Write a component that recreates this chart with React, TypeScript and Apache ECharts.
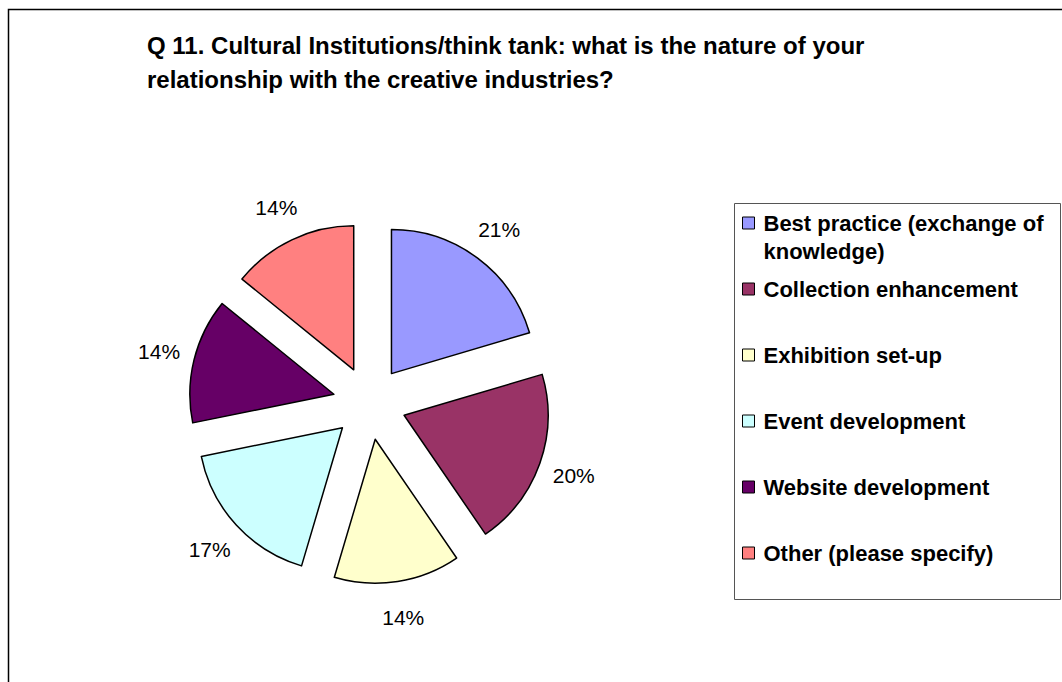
import React, { useEffect, useRef } from "react";
import * as echarts from "echarts";

const categories = [
  "Best practice (exchange of knowledge)",
  "Collection enhancement",
  "Exhibition set-up",
  "Event development",
  "Website development",
  "Other (please specify)",
];
const values = [20.5, 20.1, 14.2, 17.3, 14.1, 14.2];
const colors = ["#9999FF", "#993366", "#FFFFCC", "#CCFFFF", "#660066", "#FF8080"];
const titleText =
  "Q 11. Cultural Institutions/think tank: what is the nature of your\nrelationship with the creative industries?";

const FONT = '"Liberation Sans", Arial, Helvetica, sans-serif';

export default function App() {
  const ref = useRef<HTMLDivElement>(null);
  useEffect(() => {
    if (!ref.current) return;
    const chart = echarts.init(ref.current, undefined, { renderer: "svg" });
    const center = [369.5, 403];
    const offset = 36.7;
    const legendText = {
      fontFamily: FONT,
      fontSize: 22,
      fontWeight: "bold",
      color: "#000",
    };
    const option: any = {
      animation: false,
      backgroundColor: "#ffffff",
      title: {
        text: titleText,
        left: 147,
        top: 28,
        padding: 0,
        textStyle: {
          fontFamily: FONT,
          fontSize: 24,
          fontWeight: "bold",
          color: "#000",
          lineHeight: 34,
        },
      },
      graphic: [
        {
          type: "rect",
          z: -10,
          shape: { x: 8.5, y: 9.5, width: 1100, height: 700 },
          style: { fill: "none", stroke: "#000", lineWidth: 1.5 },
          silent: true,
        },
        {
          type: "rect",
          z: -10,
          shape: { x: 734.5, y: 203.5, width: 326, height: 396 },
          style: { fill: "none", stroke: "#555", lineWidth: 1 },
          silent: true,
        },
      ],
      legend: [
        {
          orient: "vertical",
          left: 742,
          top: 181,
          padding: 0,
          icon: "rect",
          itemWidth: 12,
          itemHeight: 12,
          selectedMode: false,
          data: [categories[0]],
          formatter: (n: string) => "\n" + n.replace(" knowledge", "\nknowledge"),
          itemStyle: { borderColor: "#000", borderWidth: 1 },
          textStyle: { ...legendText, lineHeight: 28, padding: [0, 0, 0, 4] },
        },
        {
          orient: "vertical",
          left: 742,
          top: 278,
          padding: 0,
          icon: "rect",
          itemWidth: 12,
          itemHeight: 12,
          itemGap: 44,
          selectedMode: false,
          data: categories.slice(1),
          itemStyle: { borderColor: "#000", borderWidth: 1 },
          textStyle: { ...legendText, lineHeight: 22, padding: [0, 0, 0, 4] },
        },
      ],
      series: [
        {
          type: "pie",
          center,
          radius: 144,
          startAngle: 90,
          clockwise: true,
          selectedMode: "multiple",
          selectedOffset: offset,
          emphasis: { disabled: true },
          label: { show: false },
          labelLine: { show: false },
          itemStyle: { borderColor: "#000", borderWidth: 1.5 },
          select: { itemStyle: { borderColor: "#000", borderWidth: 1.5 } },
          data: categories.map((name, i) => ({
            name,
            value: values[i],
            selected: true,
            itemStyle: { color: colors[i] },
            select: { itemStyle: { color: colors[i] } },
          })),
        },
        {
          type: "pie",
          center,
          radius: [167, 187],
          startAngle: 90,
          clockwise: true,
          silent: true,
          selectedMode: "multiple",
          selectedOffset: offset,
          emphasis: { disabled: true },
          itemStyle: { color: "rgba(0,0,0,0)", borderWidth: 0 },
          select: { itemStyle: { color: "rgba(0,0,0,0)", borderWidth: 0 } },
          label: {
            show: true,
            position: "inside",
            fontFamily: FONT,
            fontSize: 21,
            color: "#000",
            formatter: (p: any) => Math.round(p.value) + "%",
          },
          labelLine: { show: false },
          data: categories.map((name, i) => ({
            name,
            value: values[i],
            selected: true,
          })),
        },
      ],
    };
    chart.setOption(option);
    return () => chart.dispose();
  }, []);
  return (
    <div
      ref={ref}
      style={{ position: "absolute", left: 0, top: 0, width: 1062, height: 682, background: "#fff" }}
    />
  );
}
